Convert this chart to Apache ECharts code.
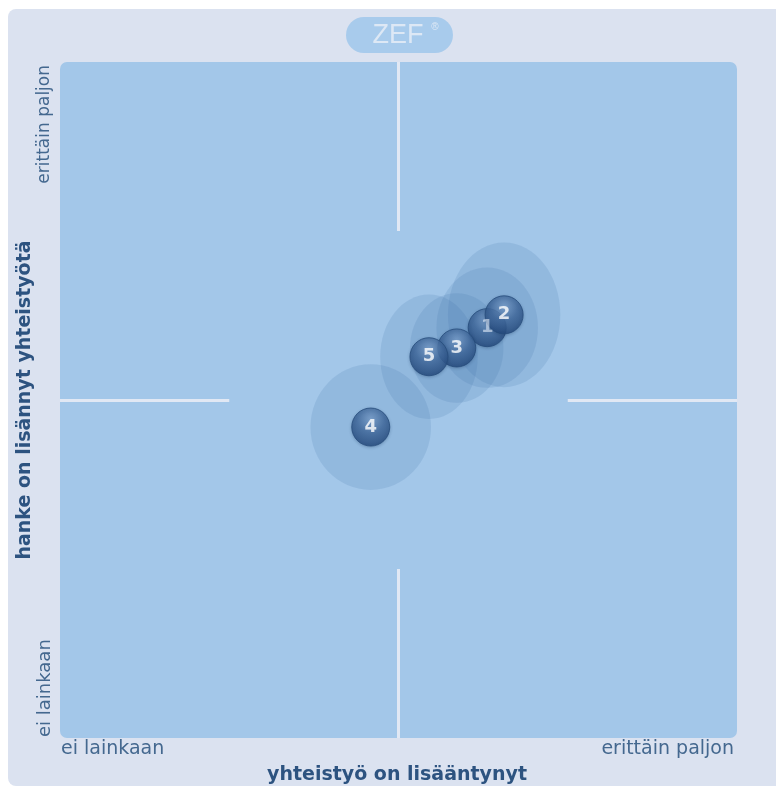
<!DOCTYPE html>
<html>
<head>
<meta charset="utf-8">
<script src="https://cdn.jsdelivr.net/npm/echarts@6/dist/echarts.min.js"></script>
<style>
html, body { margin: 0; padding: 0; background: #fff; }
#chart { width: 776px; height: 787px; }
</style>
</head>
<body>
<div id="chart"></div>
<script>
// data (scale 0..100 on both axes)
const pointNames = ['1', '2', '3', '4', '5']
const xValues = [63.1, 65.6, 58.6, 45.9, 54.5]
const yValues = [60.7, 62.6, 57.7, 46.0, 56.4]
const xSpread = [7.5, 8.3, 6.9, 8.9, 7.2]
const ySpread = [8.9, 10.7, 8.1, 9.3, 9.2]
const xTickLabels = ['ei lainkaan', 'erittäin paljon']
const yTickLabels = ['ei lainkaan', 'erittäin paljon']
const xTitle = 'yhteistyö on lisääntynyt'
const yTitle = 'hanke on lisännyt yhteistyötä'
const axisMin = 0
const axisMax = 100
const axisMid = 50
const quarter = 25

const chart = echarts.init(document.getElementById('chart'))

const labelColor = '#44688f'
const titleColor = '#2d5380'

const points = pointNames.map((n, i) => ({
  name: n,
  value: [xValues[i], yValues[i]],
  label: n === '1' ? { color: 'rgba(225,235,248,0.75)' } : undefined
}))
const halos = pointNames.map((n, i) => [xValues[i], yValues[i], xSpread[i], ySpread[i]])

const lineStyle = { color: '#e1e8f4', width: 3, type: 'solid' }
const quadLines = [
  [{ coord: [axisMin, axisMid] }, { coord: [axisMin + quarter, axisMid] }],
  [{ coord: [axisMax - quarter, axisMid] }, { coord: [axisMax, axisMid] }],
  [{ coord: [axisMid, axisMin] }, { coord: [axisMid, axisMin + quarter] }],
  [{ coord: [axisMid, axisMax - quarter] }, { coord: [axisMid, axisMax] }]
]

chart.setOption({
  animation: false,
  grid: { left: 60, top: 62, width: 677, height: 676 },
  xAxis: {
    type: 'value', min: axisMin, max: axisMax,
    axisLine: { show: false }, axisTick: { show: false },
    axisLabel: { show: false }, splitLine: { show: false }
  },
  yAxis: {
    type: 'value', min: axisMin, max: axisMax,
    axisLine: { show: false }, axisTick: { show: false },
    axisLabel: { show: false }, splitLine: { show: false }
  },
  graphic: [
    { type: 'rect', z: -10, silent: true, shape: { x: 8, y: 9, width: 776, height: 777, r: 8 }, style: { fill: '#dbe2f0' } },
    { type: 'rect', z: -9, silent: true, shape: { x: 60, y: 62, width: 677, height: 676, r: 7 }, style: { fill: '#a3c7e9' } },
    { type: 'rect', z: -9, silent: true, shape: { x: 346, y: 17, width: 107, height: 36, r: 18 }, style: { fill: '#a8cbec' } },
    { type: 'text', z: -8, x: 398, y: 36, style: { text: 'ZEF', fill: '#dde8f5', font: '27px "Liberation Sans"', align: 'center', verticalAlign: 'middle' } },
    { type: 'text', z: -8, x: 435, y: 27, style: { text: '®', fill: '#dde8f5', font: '10px "Liberation Sans"', align: 'center', verticalAlign: 'middle' } },
    { type: 'text', x: 61, y: 749, style: { text: xTickLabels[0], fill: labelColor, font: '19px "DejaVu Sans"', align: 'left', verticalAlign: 'middle' } },
    { type: 'text', x: 734, y: 749, style: { text: xTickLabels[1], fill: labelColor, font: '19px "DejaVu Sans"', align: 'right', verticalAlign: 'middle' } },
    { type: 'text', x: 397, y: 775, style: { text: xTitle, fill: titleColor, font: 'bold 19px "DejaVu Sans"', align: 'center', verticalAlign: 'middle' } },
    { type: 'text', x: 45, y: 737, rotation: Math.PI / 2, style: { text: yTickLabels[0], fill: labelColor, font: '18px "DejaVu Sans"', align: 'left', verticalAlign: 'middle' } },
    { type: 'text', x: 45, y: 65, rotation: Math.PI / 2, style: { text: yTickLabels[1], fill: labelColor, font: '17px "DejaVu Sans"', align: 'right', verticalAlign: 'middle' } },
    { type: 'text', x: 25, y: 400, rotation: Math.PI / 2, style: { text: yTitle, fill: titleColor, font: 'bold 19px "DejaVu Sans"', align: 'center', verticalAlign: 'middle' } }
  ],
  series: [
    {
      type: 'custom',
      silent: true,
      data: halos,
      renderItem(params, api) {
        const c = api.coord([api.value(0), api.value(1)])
        const s = api.size([api.value(2), api.value(3)])
        return {
          type: 'ellipse',
          shape: { cx: c[0], cy: c[1], rx: s[0], ry: s[1] },
          style: { fill: 'rgba(60,110,170,0.16)' }
        }
      },
      markLine: {
        silent: true,
        symbol: 'none',
        label: { show: false },
        lineStyle: lineStyle,
        data: quadLines
      }
    },
    {
      type: 'scatter',
      symbol: 'circle',
      symbolSize: 38,
      data: points,
      itemStyle: {
        color: {
          type: 'radial', x: 0.5, y: 0.3, r: 0.7,
          colorStops: [
            { offset: 0, color: '#7a9fcb' },
            { offset: 0.5, color: '#41699c' },
            { offset: 1, color: '#22477a' }
          ]
        },
        borderColor: '#264b7b',
        borderWidth: 1,
        shadowColor: 'rgba(30,60,100,0.35)',
        shadowBlur: 3,
        shadowOffsetY: 1
      },
      label: {
        show: true,
        position: 'inside',
        formatter: '{b}',
        color: '#ffffff',
        fontFamily: 'DejaVu Sans',
        fontWeight: 'bold',
        fontSize: 18
      }
    }
  ]
})
</script>
</body>
</html>
